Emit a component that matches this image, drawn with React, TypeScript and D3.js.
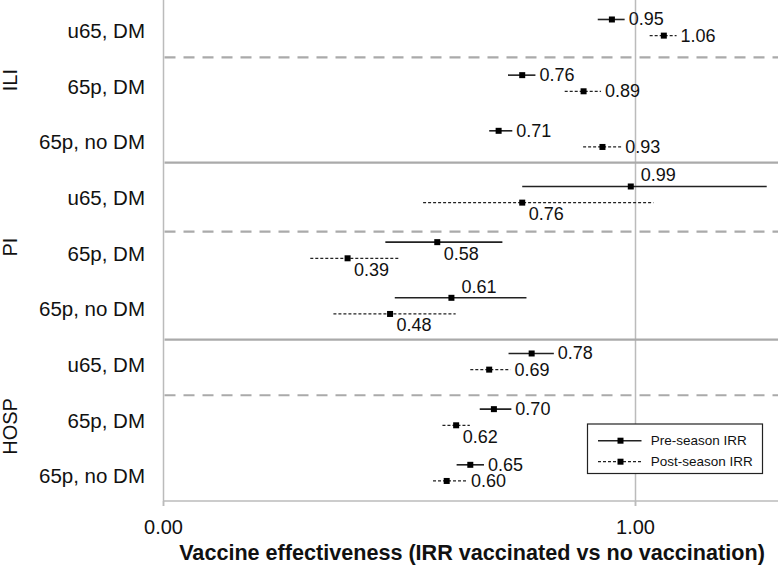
import React from "react";
import * as d3 from "d3";

// ---- data ----
const groups = ["ILI", "PI", "HOSP"];
const categories = ["u65, DM", "65p, DM", "65p, no DM"];
// per row (group x category), in order ILI..., PI..., HOSP...
const preIRR = [0.95, 0.76, 0.71, 0.99, 0.58, 0.61, 0.78, 0.70, 0.65];
const preLow = [0.92, 0.73, 0.69, 0.76, 0.47, 0.49, 0.731, 0.67, 0.621];
const preHigh = [0.977, 0.788, 0.739, 1.278, 0.718, 0.769, 0.827, 0.737, 0.679];
const postIRR = [1.06, 0.89, 0.93, 0.76, 0.39, 0.48, 0.69, 0.62, 0.60];
const postLow = [1.03, 0.85, 0.889, 0.55, 0.311, 0.36, 0.65, 0.591, 0.571];
const postHigh = [1.087, 0.927, 0.97, 1.038, 0.499, 0.619, 0.735, 0.649, 0.643];
const preLabelPos = ["right", "right", "right", "above", "below", "above", "right", "right", "right"];
const postLabelPos = ["right", "right", "right", "below", "below", "below", "right", "below", "right"];
// separators (in row units from top)
const separatorAt = [1.03, 2.92, 4.16, 6.1, 7.1];
const separatorKind = ["dashed", "solid", "dashed", "solid", "dashed"];
const groupLabelAt = [1.44, 4.44, 7.66];
const xTicks = [0, 1];
const seriesNames = ["Pre-season IRR", "Post-season IRR"];

const W = 778;
const H = 565;
const FONT = "'Liberation Sans', Arial, Helvetica, sans-serif";

export default function App() {
  const left = 163.5;
  const right = 778;
  const top = 0;
  const bottom = 501;
  const x = d3.scaleLinear().domain([0, 1]).range([left, 635.5]);
  const xMax = x.invert(right);
  x.domain([0, 1]);
  const y = d3.scaleLinear().domain([0, 9]).range([top, bottom]);
  const fmt = d3.format(".2f");
  const nRows = preIRR.length;
  const rows = d3.range(nRows);

  const labelFor = (v: number, hi: number, cy: number, pos: string, key: string) => {
    let lx = x(hi) + 4;
    let ly = cy;
    if (pos === "below") {
      lx = x(v) + 6.5;
      ly = cy + 11.5;
    } else if (pos === "above") {
      lx = x(v) + 10;
      ly = cy - 11;
    }
    return (
      <text key={key} x={lx} y={ly} dominantBaseline="central" fontSize={18} fill="#111" fontFamily={FONT}>
        {fmt(v)}
      </text>
    );
  };

  return (
    <svg width={W} height={H} style={{ position: "absolute", left: 0, top: 0, background: "#fff" }}>
      <rect x={0} y={0} width={W} height={H} fill="#fff" />
      {/* vertical reference line at 1 */}
      <line x1={x(1)} x2={x(1)} y1={top} y2={bottom + 5} stroke="#bbb" strokeWidth={1.5} />
      {/* separators */}
      {separatorAt.map((s, i) => (
        <line
          key={"sep" + i}
          x1={left + 1}
          x2={right}
          y1={y(s)}
          y2={y(s)}
          stroke="#aaa"
          strokeWidth={2.2}
          strokeDasharray={separatorKind[i] === "dashed" ? "11,8" : undefined}
        />
      ))}
      {/* axes */}
      <line x1={left} x2={left} y1={top} y2={bottom + 5} stroke="#bbb" strokeWidth={1.5} />
      <line x1={left} x2={right} y1={bottom} y2={bottom} stroke="#bbb" strokeWidth={1.5} />
      {xTicks.map((t) => (
        <g key={"t" + t}>
          <line x1={x(t)} x2={x(t)} y1={bottom} y2={bottom + 5} stroke="#bbb" strokeWidth={1.5} />
          <text x={x(t)} y={527} textAnchor="middle" dominantBaseline="central" fontSize={20} fill="#111" fontFamily={FONT}>
            {fmt(t)}
          </text>
        </g>
      ))}
      <text x={472} y={552} textAnchor="middle" dominantBaseline="central" fontSize={21.6} fontWeight="bold" fill="#111" fontFamily={FONT}>
        Vaccine effectiveness (IRR vaccinated vs no vaccination)
      </text>
      {/* category labels */}
      {rows.map((i) => (
        <text key={"c" + i} x={145} y={y(i + 0.5) + 2.5} textAnchor="end" dominantBaseline="central" fontSize={20.5} fill="#111" fontFamily={FONT}>
          {categories[i % categories.length]}
        </text>
      ))}
      {/* group labels */}
      {groups.map((g, i) => (
        <text
          key={"g" + g}
          transform={`translate(${17},${y(groupLabelAt[i])}) rotate(-90)`}
          textAnchor="middle"
          fontSize={20}
          fill="#111"
          fontFamily={FONT}
        >
          {g}
        </text>
      ))}
      {/* error bars + markers */}
      {rows.map((i) => {
        const cyPre = y(i + 0.35);
        const cyPost = y(i + 0.64);
        return (
          <g key={"r" + i}>
            <line x1={x(preLow[i])} x2={x(Math.min(preHigh[i], xMax))} y1={cyPre} y2={cyPre} stroke="#222" strokeWidth={1.6} />
            <rect x={x(preIRR[i]) - 3} y={cyPre - 3} width={6} height={6} fill="#000" />
            {labelFor(preIRR[i], preHigh[i], cyPre, preLabelPos[i], "lp" + i)}
            <line x1={x(postLow[i])} x2={x(postHigh[i])} y1={cyPost} y2={cyPost} stroke="#222" strokeWidth={1.2} strokeDasharray="3,2" />
            <rect x={x(postIRR[i]) - 3} y={cyPost - 3} width={6} height={6} fill="#000" />
            {labelFor(postIRR[i], postHigh[i], cyPost, postLabelPos[i], "lq" + i)}
          </g>
        );
      })}
      {/* legend */}
      <g>
        <rect x={587.5} y={424} width={175} height={49.5} fill="#fff" stroke="#222" strokeWidth={1.2} />
        {seriesNames.map((s, i) => {
          const ly = 440.7 + i * 21;
          return (
            <g key={"lg" + i}>
              <line x1={598} x2={641.5} y1={ly} y2={ly} stroke="#222" strokeWidth={i === 0 ? 1.6 : 1.2} strokeDasharray={i === 0 ? undefined : "3,2"} />
              <rect x={617.5} y={ly - 3} width={6} height={6} fill="#000" />
              <text x={650.7} y={ly} dominantBaseline="central" fontSize={13.5} fill="#111" fontFamily={FONT}>
                {s}
              </text>
            </g>
          );
        })}
      </g>
    </svg>
  );
}
